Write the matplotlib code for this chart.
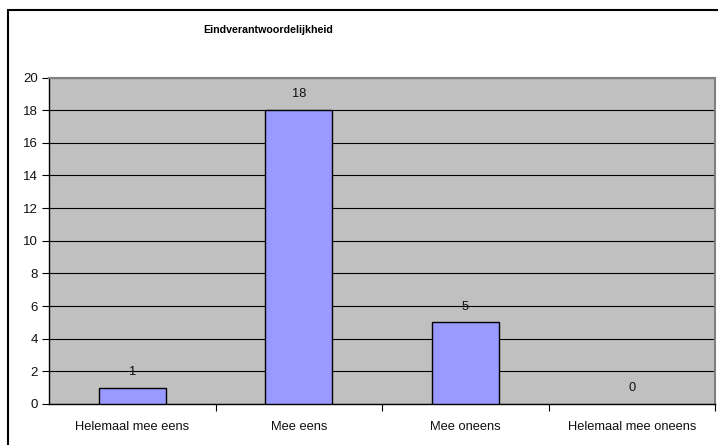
import matplotlib.pyplot as plt
from matplotlib.patches import Rectangle

plt.rcParams['font.family'] = ['Liberation Sans', 'DejaVu Sans']

categories = ['Helemaal mee eens', 'Mee eens', 'Mee oneens', 'Helemaal mee oneens']
counts = [1, 18, 5, 0]
title = 'Eindverantwoordelijkheid'

W, H = 718, 445
fig = plt.figure(figsize=(W / 100, H / 100), dpi=100)

# outer chart frame, runs off the right and bottom edges
fig.patches.append(Rectangle((8 / W, -0.05), 1.0, 1 - 9.5 / H + 0.05,
                             transform=fig.transFigure, fill=False,
                             edgecolor='black', linewidth=1.5))

ax = fig.add_axes([49 / W, 1 - 404 / H, (715 - 49) / W, (404 - 77.5) / H])
ax.set_facecolor('#c0c0c0')

x = list(range(len(categories)))
ax.bar(x, counts, width=0.4, color='#9999ff', edgecolor='black',
       linewidth=[1 if v else 0 for v in counts], zorder=3)
for xi, v in zip(x, counts):
    ax.text(xi, v + 0.6, str(v), ha='center', va='bottom', fontsize=9.3,
            color='#111111', zorder=4)

ax.set_xlim(-0.5, len(categories) - 0.5)
ax.set_ylim(0, 20)
ax.set_yticks(range(0, 21, 2))
ax.yaxis.grid(True, color='black', linewidth=0.8)
ax.set_axisbelow(True)

# category ticks sit between the bars
ax.set_xticks([i + 0.5 for i in range(len(categories) - 1)] + [len(categories) - 0.5])
ax.set_xticklabels([])
ax.set_xticks(x, minor=True)
ax.set_xticklabels(categories, minor=True, fontsize=9.3, color='#111111')
ax.tick_params(axis='x', which='minor', length=0, pad=12)
ax.tick_params(axis='x', which='major', length=5, direction='out', color='black')
ax.tick_params(axis='y', length=5, labelsize=9.5, pad=3, labelcolor='#111111')

for side in ('left', 'bottom'):
    ax.spines[side].set_color('black')
    ax.spines[side].set_linewidth(1)
for side in ('top', 'right'):
    ax.spines[side].set_color('#808080')
    ax.spines[side].set_linewidth(1.5)

fig.text(268.5 / W, 1 - 30 / H, title, ha='center', va='center',
         fontsize=7.7, fontweight='bold')

fig.savefig('out.png', dpi=100)
